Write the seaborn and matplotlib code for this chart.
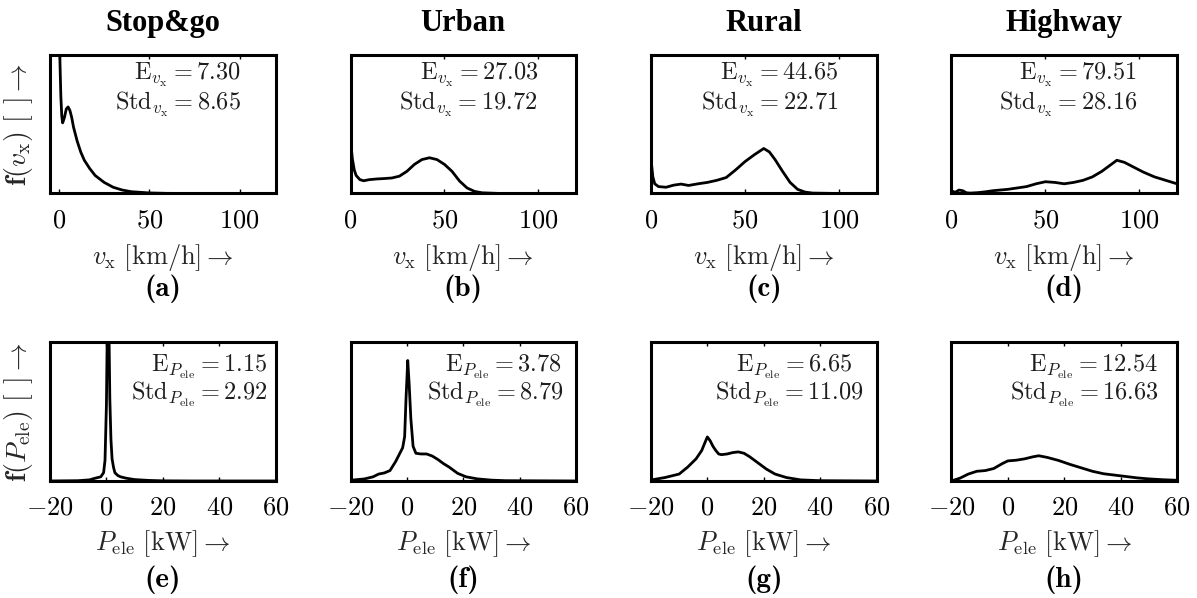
import matplotlib
matplotlib.use("Agg")
import matplotlib.pyplot as plt
from matplotlib.ticker import FuncFormatter
import pandas as pd
import seaborn as sns

# ---- driving cycles -------------------------------------------------------
cycles = ["Stop&go", "Urban", "Rural", "Highway"]
speed_panels = ["(a)", "(b)", "(c)", "(d)"]
power_panels = ["(e)", "(f)", "(g)", "(h)"]

# ---- speed densities (relative units) --------------------------------------
v_stopgo = [0, 0.5, 1.0, 1.5, 2.0, 3.0, 4.0, 5.0, 6.0, 7.0, 8.0, 10, 12, 14,
            17, 20, 25, 30, 35, 40, 50, 60, 80, 100, 120]
f_v_stopgo = [1.6, 0.95, 0.70, 0.56, 0.51, 0.55, 0.61, 0.625, 0.60, 0.55,
              0.48, 0.38, 0.30, 0.24, 0.18, 0.13, 0.08, 0.045, 0.025, 0.013,
              0.004, 0.001, 0, 0, 0]

v_urban = [0, 1, 2, 3, 5, 7, 10, 14, 18, 22, 26, 30, 34, 38, 42, 46, 50, 54,
           58, 62, 66, 70, 80, 120]
f_v_urban = [0.38, 0.25, 0.17, 0.13, 0.10, 0.092, 0.10, 0.105, 0.108, 0.112,
             0.125, 0.16, 0.21, 0.245, 0.258, 0.245, 0.21, 0.16, 0.09, 0.04,
             0.015, 0.005, 0, 0]

v_rural = [0, 1, 2, 4, 8, 12, 16, 20, 25, 30, 35, 40, 45, 50, 55, 60, 63, 66,
           70, 74, 78, 82, 86, 100, 120]
f_v_rural = [0.25, 0.12, 0.07, 0.05, 0.045, 0.06, 0.068, 0.058, 0.07, 0.08,
             0.095, 0.115, 0.17, 0.23, 0.28, 0.325, 0.30, 0.245, 0.16, 0.08,
             0.03, 0.01, 0.003, 0, 0]

v_highway = [0, 2, 4, 6, 8, 10, 14, 18, 22, 26, 30, 35, 40, 45, 50, 55, 60, 65,
             70, 75, 80, 85, 88, 92, 97, 102, 108, 114, 120]
f_v_highway = [0.02, 0.008, 0.025, 0.02, 0.005, 0.003, 0.006, 0.012, 0.02,
               0.025, 0.03, 0.04, 0.05, 0.07, 0.085, 0.08, 0.07, 0.08, 0.095,
               0.12, 0.16, 0.21, 0.24, 0.225, 0.19, 0.155, 0.12, 0.095, 0.07]

# ---- electric power densities (relative units) ------------------------------
p_stopgo = [-20, -10, -6, -4, -2, -1, -0.5, 0, 0.3, 0.6, 0.9, 1.2, 1.6, 2.0,
            2.5, 3, 4, 5, 7, 10, 15, 20, 30, 60]
f_p_stopgo = [0, 0.002, 0.008, 0.02, 0.03, 0.06, 0.15, 0.55, 1.1, 1.4, 1.1,
              0.6, 0.3, 0.16, 0.1, 0.06, 0.04, 0.03, 0.02, 0.01, 0.004, 0.001,
              0, 0]

p_urban = [-20, -15, -12, -10, -8, -6, -4, -2.5, -1.5, -0.8, -0.3, 0.3, 0.8,
           1.4, 2.2, 3.2, 5, 7, 9, 11, 13, 15, 18, 21, 25, 30, 35, 60]
f_p_urban = [0.005, 0.015, 0.03, 0.05, 0.058, 0.075, 0.14, 0.2, 0.24, 0.32,
             0.6, 0.87, 0.7, 0.45, 0.25, 0.2, 0.195, 0.195, 0.18, 0.155,
             0.125, 0.1, 0.055, 0.03, 0.015, 0.006, 0.002, 0]

p_rural = [-20, -15, -10, -7, -4, -2, -1, 0, 1, 2, 3, 4, 5, 7, 9, 11, 13, 15,
           18, 21, 24, 28, 33, 40, 60]
f_p_rural = [0.007, 0.025, 0.05, 0.1, 0.16, 0.22, 0.27, 0.318, 0.29, 0.25,
             0.22, 0.195, 0.19, 0.195, 0.205, 0.21, 0.2, 0.175, 0.13, 0.085,
             0.05, 0.025, 0.008, 0.002, 0]

p_highway = [-20, -17, -14, -11, -8, -5, -2, 0, 3, 6, 9, 11, 14, 18, 22, 26,
             30, 34, 38, 42, 46, 50, 55, 60]
f_p_highway = [0.0, 0.02, 0.05, 0.07, 0.075, 0.09, 0.125, 0.145, 0.15, 0.16,
               0.175, 0.182, 0.17, 0.148, 0.12, 0.095, 0.07, 0.052, 0.042,
               0.032, 0.022, 0.015, 0.009, 0.005]

# ---- statistics -------------------------------------------------------------
speed_mean = [7.30, 27.03, 44.65, 79.51]
speed_std = [8.65, 19.72, 22.71, 28.16]
power_mean = [1.15, 3.78, 6.65, 12.54]
power_std = [2.92, 8.79, 11.09, 16.63]

speed_x = [v_stopgo, v_urban, v_rural, v_highway]
speed_f = [f_v_stopgo, f_v_urban, f_v_rural, f_v_highway]
power_x = [p_stopgo, p_urban, p_rural, p_highway]
power_f = [f_p_stopgo, f_p_urban, f_p_rural, f_p_highway]

# ---- styling ----------------------------------------------------------------
sns.set_theme(style="white")
plt.rcParams.update({
    "font.family": "serif",
    "font.serif": ["cmr10", "DejaVu Serif"],
    "mathtext.fontset": "cm",
    "axes.linewidth": 2.2,
    "axes.edgecolor": "black",
    "text.color": "black",
    "xtick.color": "black",
})

fig, axes = plt.subplots(2, 4, figsize=(11.97, 5.98), dpi=100)
fig.subplots_adjust(left=0.0418, right=0.9833, top=0.908, bottom=0.1957,
                    wspace=0.332, hspace=1.076)

# right edge (axes fraction) of the E / Std annotation lines
speed_text_x = [(0.845, 0.845), (0.833, 0.829), (0.832, 0.829), (0.822, 0.824)]
power_text_x = [(0.963, 0.963), (0.937, 0.944), (0.893, 0.944), (0.917, 0.917)]

math_fmt = FuncFormatter(lambda v, _: r"$%g$" % v)
ann_kw = dict(ha="right", va="baseline", fontsize=17.5, color="#1e1e1e")
panel_kw = dict(ha="center", va="center", fontsize=21, family="cmb10")


def style_axis(ax, xlim, ticks, pad):
    ax.set_xlim(*xlim)
    ax.set_ylim(0, 1)
    ax.set_xticks(ticks)
    ax.xaxis.set_major_formatter(math_fmt)
    ax.set_yticks([])
    ax.tick_params(axis="x", direction="in", top=True, bottom=True,
                   length=3, width=1, labelsize=19, pad=pad)
    for s in ax.spines.values():
        s.set_visible(True)
        s.set_linewidth(2.2)
        s.set_color("black")


for i in range(4):
    # speed row
    ax = axes[0, i]
    df = pd.DataFrame({"v": speed_x[i], "f": speed_f[i]})
    sns.lineplot(data=df, x="v", y="f", ax=ax, color="black", lw=2.0)
    style_axis(ax, (-5, 120) if i == 0 else (0, 120), [0, 50, 100], 11)
    ax.set_xlabel(r"$v_\mathrm{x}\ \mathrm{[km/h]} \rightarrow$",
                  fontsize=19, labelpad=7)
    ax.set_ylabel(r"$\mathbf{f}(v_\mathrm{x})\ \mathrm{[\;\,]} \rightarrow$"
                  if i == 0 else "", fontsize=20, labelpad=11)
    ax.set_title(cycles[i], fontsize=22, fontweight="bold",
                 family="Liberation Serif", pad=17)
    xe, xs = speed_text_x[i]
    ax.text(xe, 0.819, r"$\mathrm{E}_{v_\mathrm{x}} = %.2f$" % speed_mean[i],
            transform=ax.transAxes, **ann_kw)
    ax.text(xs, 0.601, r"$\mathrm{Std}_{v_\mathrm{x}} = %.2f$" % speed_std[i],
            transform=ax.transAxes, **ann_kw)
    ax.text(0.5, -0.69, speed_panels[i], transform=ax.transAxes, **panel_kw)

    # power row
    ax = axes[1, i]
    df = pd.DataFrame({"p": power_x[i], "f": power_f[i]})
    sns.lineplot(data=df, x="p", y="f", ax=ax, color="black", lw=2.0)
    style_axis(ax, (-20, 60), [-20, 0, 20, 40, 60], 11)
    ax.set_xlabel(r"$P_\mathrm{ele}\ \mathrm{[kW]} \rightarrow$",
                  fontsize=19, labelpad=6)
    ax.set_ylabel(r"$\mathbf{f}(P_\mathrm{ele})\ \mathrm{[\;\,]} \rightarrow$"
                  if i == 0 else "", fontsize=20, labelpad=11)
    xe, xs = power_text_x[i]
    ax.text(xe, 0.786, r"$\mathrm{E}_{P_\mathrm{ele}} = %.2f$" % power_mean[i],
            transform=ax.transAxes, **ann_kw)
    ax.text(xs, 0.583, r"$\mathrm{Std}_{P_\mathrm{ele}} = %.2f$" % power_std[i],
            transform=ax.transAxes, **ann_kw)
    ax.text(0.5, -0.71, power_panels[i], transform=ax.transAxes, **panel_kw)

fig.savefig("out.png", dpi=100)
